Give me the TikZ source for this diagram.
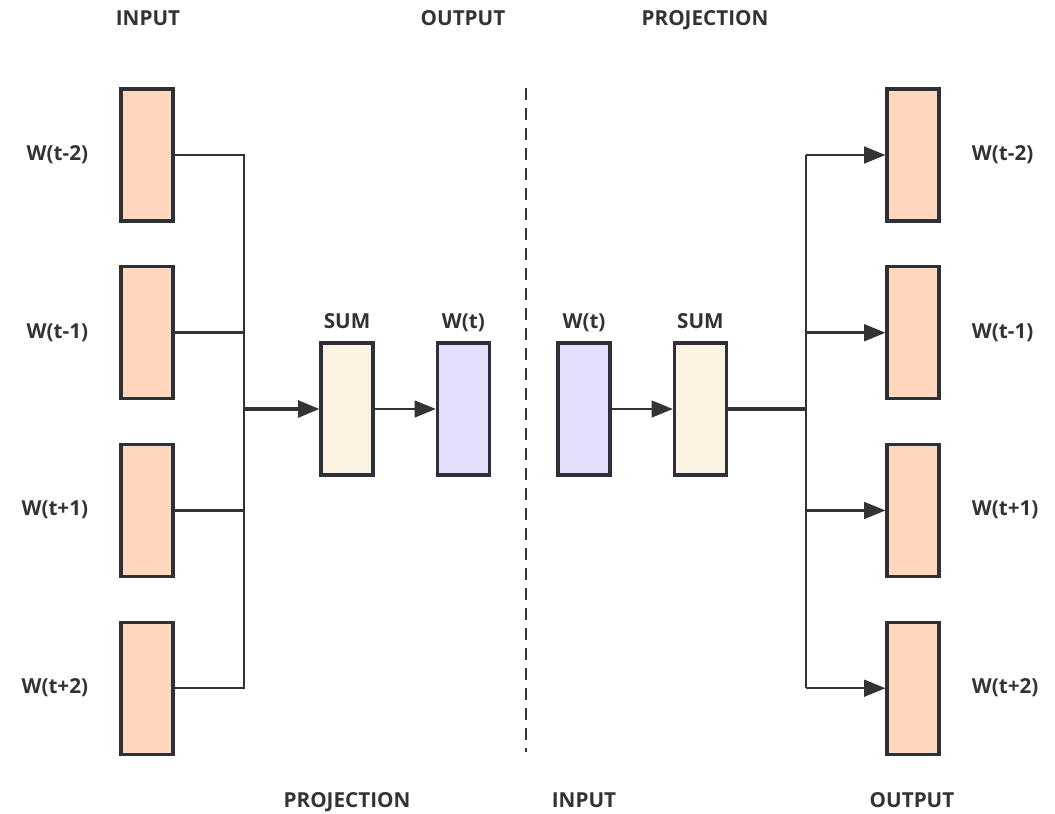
\documentclass[tikz,border=0pt]{standalone}
\usepackage{fontspec}
\setmainfont{Open Sans}
\usepackage{xcolor}
\usepackage{tikz}
\usetikzlibrary{positioning,arrows.meta}
\definecolor{wordpeach}{HTML}{FFD7BD}
\definecolor{sumcream}{HTML}{FBF2E1}
\definecolor{veclilac}{HTML}{E3DEFC}
\definecolor{edgegray}{HTML}{2B3136}
\definecolor{inkgray}{HTML}{333333}

\begin{document}
\begin{tikzpicture}[
        x=0.75pt, y=-0.75pt,
        node distance=32pt and 20pt,
        every node/.style={font=\bfseries\fontsize{15.5}{18}\selectfont, text=inkgray, text height=11pt, text depth=3pt},
        wordbox/.style={rectangle, draw=edgegray, line width=2.3pt, minimum width=39pt, minimum height=99pt, fill=wordpeach, inner sep=0pt},
        sumbox/.style={wordbox, fill=sumcream},
        vecbox/.style={wordbox, fill=veclilac},
        line/.style={draw=inkgray, line width=1.9pt},
        mainline/.style={draw=inkgray, line width=2.6pt},
        arr/.style={-{Triangle[length=16pt, width=12.5pt]}}
    ]
        \useasboundingbox (0,0) rectangle (1055,813);

        % CBOW side
        \node[wordbox] (in1) at (147,155) {};
        \node[wordbox, below=of in1] (in2) {};
        \node[wordbox, below=of in2] (in3) {};
        \node[wordbox, below=of in3] (in4) {};
        \node[left=of in1] (lin1) {W(t-2)};
        \node[left=of in2] (lin2) {W(t-1)};
        \node[left=of in3] (lin3) {W(t+1)};
        \node[left=of in4] (lin4) {W(t+2)};

        \node[sumbox] (sumL) at (347,409) {};
        \node[vecbox, right=46pt of sumL] (vecL) {};
        \node[above=3pt of sumL] (lsumL) {SUM};
        \node[above=3pt of vecL] (lvecL) {W(t)};

        \coordinate (busL) at (244,409);
        \draw[line] (in1.east) -- (in1.east -| busL) -- (in4.east -| busL) -- (in4.east);
        \draw[line] (in2.east) -- (in2.east -| busL);
        \draw[line] (in3.east) -- (in3.east -| busL);
        \draw[mainline, arr] (busL) -- (sumL.west);
        \draw[line, arr] (sumL.east) -- (vecL.west);

        % Divider
        \coordinate (divtop) at (526,88);
        \coordinate (divbot) at (526,752);
        \draw[inkgray, line width=2.2pt, dash pattern=on 9pt off 6pt] (divtop) -- (divbot);

        % Skip-gram side
        \node[vecbox] (vecR) at (584,409) {};
        \node[sumbox, right=46pt of vecR] (sumR) {};
        \node[above=3pt of vecR] (lvecR) {W(t)};
        \node[above=3pt of sumR] (lsumR) {SUM};

        \node[wordbox] (out1) at (913,155) {};
        \node[wordbox, below=of out1] (out2) {};
        \node[wordbox, below=of out2] (out3) {};
        \node[wordbox, below=of out3] (out4) {};
        \node[right=of out1] (lout1) {W(t-2)};
        \node[right=of out2] (lout2) {W(t-1)};
        \node[right=of out3] (lout3) {W(t+1)};
        \node[right=of out4] (lout4) {W(t+2)};

        \coordinate (busR) at (806,409);
        \draw[line, arr] (vecR.east) -- (sumR.west);
        \draw[mainline] (sumR.east) -- (busR);
        \draw[line] (busR |- out1.west) -- (busR |- out4.west);
        \foreach \k in {1,...,4}
            \draw[line, arr] (busR |- out\k.west) -- (out\k.west);

        % Layer titles
        \node (tinL) at (148,20) {INPUT};
        \node (toutL) at (463,20) {OUTPUT};
        \node (tprojR) at (705,20) {PROJECTION};
        \node (bprojL) at (347,802) {PROJECTION};
        \node (binR) at (584,802) {INPUT};
        \node (boutR) at (912,802) {OUTPUT};

    \end{tikzpicture}
\end{document}
